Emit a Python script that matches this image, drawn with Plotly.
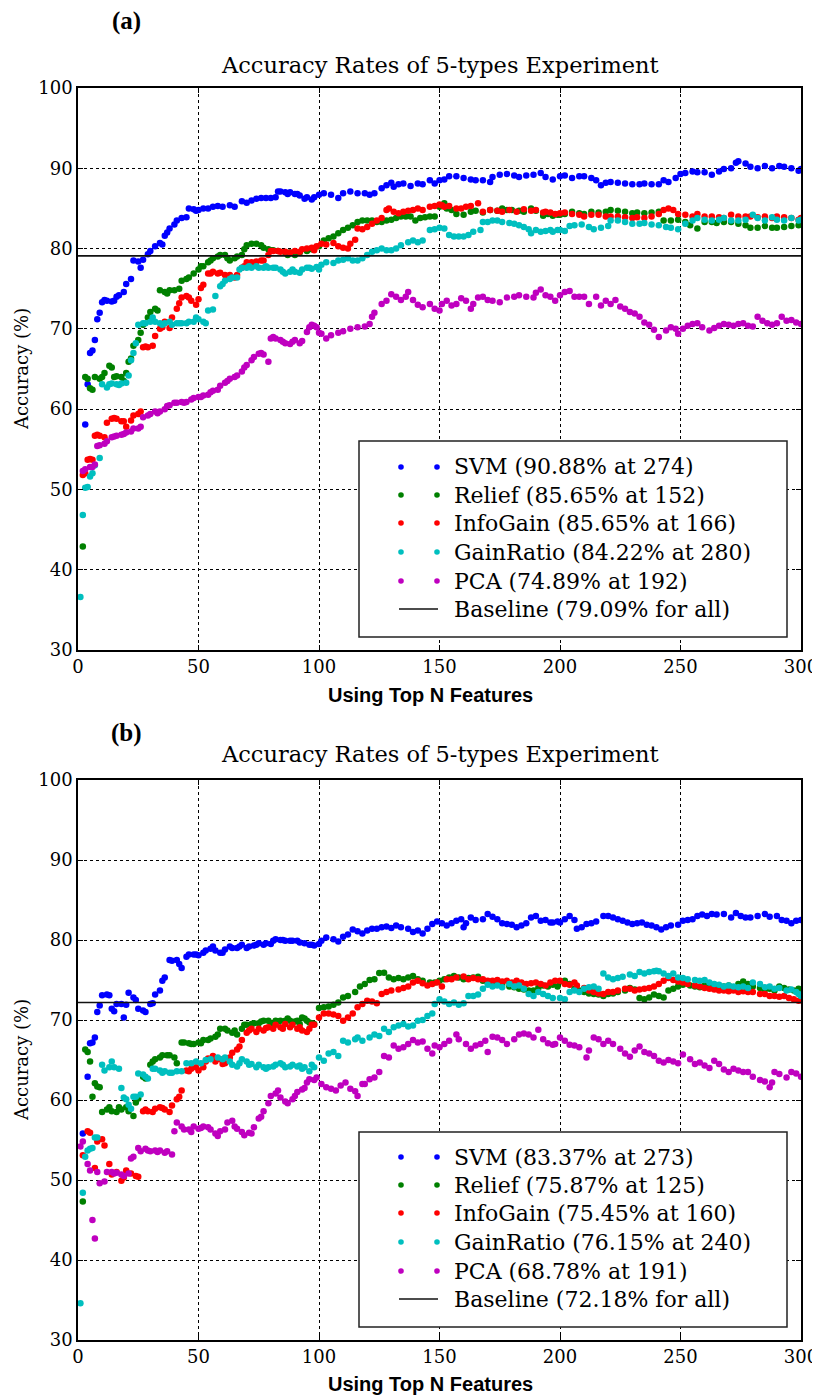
import plotly.graph_objects as go

# ---------------- data (N features, accuracy %) ----------------
svm_a = [(3,58.1),(4,63.1),(5,67.0),(6,67.3),(7,68.6),(8,71.2),(9,72.0),(10,73.3),(11,73.6),(12,73.5),(14,73.4),(15,73.5),(16,74.0),(17,74.2),(19,74.6),(20,75.6),(22,76.2),(23,78.5),(25,78.4),(26,77.6),(27,78.6),(29,79.3),(30,79.7),(32,80.3),(34,80.7),(35,80.5),(36,81.6),(37,82.0),(38,82.5),(40,83.0),(41,83.5),(43,83.8),(45,83.9),(46,85.0),(48,84.9),(49,84.7),(50,84.8),(52,85.0),(54,85.0),(56,85.2),(58,85.3),(60,85.2),(63,85.4),(65,85.2),(68,85.9),(70,85.7),(72,86.0),(74,86.2),(76,86.3),(78,86.3),(80,86.3),(82,86.4),(83,87.1),(84,87.1),(86,87.0),(87,86.8),(88,87.0),(90,86.8),(91,86.8),(92,86.6),(94,86.2),(95,86.4),(97,86.1),(98,86.4),(100,86.7),(102,86.9),(105,86.7),(108,86.3),(110,86.9),(113,87.1),(116,86.9),(119,86.9),(121,86.7),(123,86.9),(126,87.5),(128,87.9),(130,88.2),(131,87.7),(133,88.0),(135,88.1),(138,87.8),(141,88.1),(143,88.0),(146,88.5),(148,88.1),(150,88.5),(152,88.6),(154,89.0),(157,89.0),(160,88.8),(163,88.6),(165,88.5),(168,88.5),(171,88.3),(172,88.9),(175,89.2),(178,89.3),(181,89.1),(183,88.9),(186,89.1),(189,89.2),(192,89.4),(194,88.9),(197,88.6),(200,89.0),(202,89.1),(205,88.8),(208,89.0),(210,89.0),(213,88.8),(215,88.5),(217,87.9),(219,88.2),(221,88.3),(224,88.2),(227,88.1),(230,88.0),(233,88.0),(235,88.1),(238,88.0),(241,88.0),(243,88.5),(245,88.3),(248,88.8),(250,89.3),(252,89.4),(255,89.6),(257,89.5),(260,89.5),(263,89.2),(266,89.6),(268,89.9),(271,90.0),(273,90.7),(274,90.88),(277,90.6),(279,90.2),(282,90.0),(285,90.3),(288,90.0),(291,90.3),(293,90.2),(296,90.0),(299,89.7),(300,89.9)]
relief_a = [(2,42.9),(3,64.0),(4,63.8),(5,62.6),(6,62.4),(7,64.0),(9,63.8),(10,64.0),(11,64.5),(13,65.4),(14,65.2),(15,64.0),(16,64.1),(18,64.0),(19,63.5),(20,64.5),(21,65.9),(22,66.3),(23,67.9),(25,68.6),(26,69.5),(27,70.5),(29,71.4),(30,72.1),(32,72.5),(33,72.3),(34,74.8),(36,74.6),(37,74.4),(38,74.8),(40,74.8),(42,75.0),(43,76.0),(45,76.2),(46,76.4),(48,76.9),(50,77.4),(51,77.8),(52,77.8),(54,78.3),(55,78.5),(56,78.8),(58,79.0),(59,79.2),(61,79.2),(62,78.8),(63,78.5),(65,78.8),(66,79.0),(68,79.2),(69,79.9),(70,80.4),(72,80.6),(74,80.6),(76,80.4),(77,80.1),(79,79.9),(80,79.8),(81,79.8),(83,79.7),(86,79.5),(87,79.2),(88,79.5),(90,79.2),(92,79.5),(95,79.7),(97,79.9),(98,80.0),(100,80.3),(102,81.0),(104,81.3),(106,81.5),(108,81.9),(110,82.3),(112,82.6),(114,82.9),(116,83.3),(118,83.5),(120,83.5),(122,83.5),(124,83.3),(126,83.3),(128,83.5),(130,83.6),(132,83.8),(134,84.0),(136,84.0),(138,84.0),(140,83.5),(142,83.8),(144,83.9),(146,84.0),(148,84.0),(150,85.2),(152,85.65),(153,85.0),(155,84.8),(157,84.3),(160,84.2),(163,84.6),(165,84.7),(168,84.5),(171,84.8),(174,84.7),(176,85.0),(178,84.8),(180,84.8),(183,84.7),(185,84.6),(188,85.0),(190,84.7),(193,84.1),(195,84.3),(197,84.1),(199,84.2),(200,84.2),(202,84.3),(205,84.6),(208,84.4),(210,84.3),(213,84.6),(216,84.5),(219,84.6),(221,84.8),(224,84.7),(227,84.6),(230,84.4),(232,84.5),(235,84.4),(238,84.5),(241,84.6),(243,83.5),(246,83.5),(249,83.6),(252,83.3),(254,82.9),(257,82.5),(260,83.3),(263,83.3),(265,83.2),(268,83.3),(271,83.3),(274,83.1),(277,82.9),(279,82.6),(282,82.6),(285,82.8),(288,82.6),(290,82.6),(293,82.7),(296,82.8),(299,82.9),(300,83.1)]
infogain_a = [(2,51.8),(3,52.0),(4,53.7),(5,53.8),(6,53.7),(7,56.7),(8,56.8),(9,56.7),(11,56.5),(12,58.3),(14,58.8),(15,58.9),(16,58.8),(18,58.5),(19,58.5),(20,57.8),(22,58.6),(23,59.2),(25,59.4),(26,59.7),(27,67.7),(28,67.8),(29,67.7),(31,67.9),(32,69.1),(34,70.0),(35,70.2),(36,70.9),(38,70.1),(39,71.4),(41,72.5),(42,73.2),(43,73.9),(45,74.1),(46,73.9),(47,73.5),(49,73.0),(50,73.7),(51,75.1),(52,75.5),(54,76.9),(55,76.9),(56,77.1),(58,76.9),(59,77.0),(61,76.7),(62,76.4),(63,76.7),(65,76.4),(66,76.7),(68,77.6),(69,77.8),(70,78.3),(72,78.3),(73,78.2),(74,78.4),(76,78.5),(77,78.5),(79,79.2),(80,79.7),(81,79.7),(83,79.7),(84,79.6),(86,79.6),(88,79.5),(90,79.7),(92,79.6),(93,79.9),(95,80.0),(97,80.1),(98,79.8),(99,80.3),(101,80.6),(103,80.5),(106,80.7),(108,80.3),(110,80.1),(112,80.0),(113,80.6),(115,81.1),(116,82.5),(118,82.4),(120,82.7),(122,83.1),(124,83.5),(126,83.8),(128,84.8),(129,85.0),(131,84.6),(133,84.4),(135,84.6),(137,84.7),(139,84.8),(141,85.0),(143,84.8),(146,85.2),(148,85.3),(150,85.5),(151,85.4),(152,85.2),(154,85.3),(157,85.0),(159,85.0),(161,85.2),(163,85.3),(166,85.65),(168,84.6),(171,84.8),(174,84.7),(176,84.6),(179,84.8),(182,84.6),(185,84.9),(188,84.7),(190,84.8),(193,84.5),(194,84.6),(196,84.5),(198,84.3),(200,84.4),(202,84.5),(205,84.3),(208,84.2),(210,84.0),(213,84.2),(216,84.2),(219,84.0),(221,84.0),(224,84.0),(227,83.9),(230,83.8),(232,83.9),(235,83.8),(238,84.0),(241,84.3),(243,84.8),(245,85.0),(247,84.8),(249,84.3),(252,84.2),(255,84.0),(257,84.3),(260,84.0),(263,84.0),(266,83.9),(268,83.8),(271,84.2),(274,84.0),(277,84.0),(279,84.0),(282,83.9),(285,84.0),(288,83.8),(290,84.0),(293,83.9),(296,83.8),(299,83.6),(300,83.8)]
gainratio_a = [(1,36.6),(2,46.8),(3,50.2),(4,50.3),(5,51.6),(6,52.0),(7,53.0),(9,53.9),(10,63.1),(12,62.7),(13,63.1),(14,63.2),(16,63.1),(17,63.0),(18,63.2),(20,63.3),(21,64.2),(22,66.1),(23,67.0),(24,68.2),(25,70.5),(27,70.7),(28,70.7),(30,70.9),(31,71.4),(32,70.9),(34,70.7),(35,70.5),(36,70.7),(38,70.9),(39,70.5),(41,70.7),(42,70.7),(43,70.7),(45,70.7),(46,70.9),(48,70.9),(49,71.4),(50,71.2),(52,70.9),(53,70.7),(54,72.3),(56,72.4),(57,74.1),(59,75.3),(60,75.6),(61,76.0),(63,76.2),(64,76.4),(66,76.4),(67,77.4),(68,77.6),(70,77.6),(71,77.8),(72,77.6),(74,77.8),(75,77.6),(77,77.6),(78,77.8),(79,77.6),(81,77.6),(82,77.6),(84,77.4),(85,77.1),(86,76.9),(88,77.1),(89,77.4),(90,77.1),(92,77.0),(93,77.4),(95,77.6),(96,77.6),(97,77.5),(99,77.7),(100,77.4),(101,78.0),(103,78.3),(106,78.2),(108,78.5),(110,78.6),(112,78.8),(114,78.5),(116,78.5),(118,78.8),(120,79.2),(122,79.6),(124,79.8),(126,80.0),(128,79.8),(130,79.8),(132,80.0),(134,80.4),(137,80.8),(139,81.0),(141,80.8),(143,81.0),(146,82.3),(148,82.4),(150,82.6),(152,82.5),(154,81.7),(156,81.5),(158,81.5),(160,81.5),(162,81.7),(164,82.1),(167,82.3),(168,83.3),(170,83.3),(172,83.5),(174,83.5),(176,83.3),(179,83.2),(181,83.1),(183,82.9),(185,82.7),(187,82.4),(188,81.9),(190,82.3),(192,82.1),(194,82.2),(196,82.3),(197,82.1),(199,82.3),(200,82.3),(202,82.2),(204,82.8),(206,82.9),(209,83.0),(212,82.7),(214,82.4),(217,82.6),(220,82.8),(221,83.5),(224,83.5),(227,83.3),(230,83.1),(233,83.1),(235,83.2),(238,83.0),(241,82.9),(244,82.7),(246,82.6),(249,82.4),(252,83.1),(255,83.5),(257,83.8),(260,83.6),(263,83.5),(266,83.6),(268,83.8),(271,83.5),(274,83.5),(277,83.6),(280,84.22),(282,83.8),(285,83.5),(288,83.9),(290,83.6),(293,83.5),(296,83.8),(299,83.5),(300,83.6)]
pca_a = [(2,52.3),(3,52.5),(5,52.8),(6,52.8),(7,53.1),(8,55.4),(9,55.5),(11,55.7),(12,56.0),(14,56.5),(15,56.6),(16,56.7),(18,56.8),(19,56.9),(20,57.1),(22,57.2),(23,57.6),(25,57.6),(26,57.8),(27,59.0),(29,59.2),(30,59.4),(32,59.7),(33,59.5),(34,59.7),(36,60.0),(37,60.4),(38,60.5),(40,60.8),(41,60.8),(43,60.9),(44,60.8),(45,60.9),(47,61.2),(48,61.4),(50,61.5),(51,61.5),(52,61.7),(54,61.8),(55,62.1),(56,62.3),(58,62.4),(59,62.9),(61,63.3),(62,63.5),(63,63.8),(65,64.0),(66,64.2),(68,64.7),(69,65.2),(70,65.5),(72,66.1),(73,66.5),(75,66.9),(76,67.0),(77,66.8),(79,65.9),(80,68.8),(81,69.0),(82,68.8),(84,68.6),(85,68.4),(86,68.2),(88,68.1),(89,68.4),(90,68.6),(92,68.2),(93,68.5),(95,69.6),(96,70.2),(97,70.5),(98,70.4),(99,70.2),(100,69.5),(101,69.4),(103,68.8),(105,69.2),(108,69.5),(110,69.7),(113,70.0),(116,70.2),(119,70.3),(121,70.6),(122,71.5),(123,72.0),(126,73.1),(128,73.5),(130,74.3),(132,74.0),(134,73.6),(136,74.0),(137,74.6),(139,73.6),(141,73.0),(143,72.7),(146,73.1),(148,72.5),(150,72.3),(151,73.1),(153,73.5),(155,72.9),(157,73.1),(159,73.8),(161,73.5),(163,72.5),(164,73.1),(166,73.9),(168,74.0),(170,73.6),(172,73.5),(175,73.3),(178,73.9),(181,74.0),(183,74.2),(186,74.0),(189,73.9),(190,74.5),(192,74.89),(194,74.2),(196,74.0),(198,73.5),(200,74.2),(202,74.6),(204,74.7),(206,74.0),(208,74.0),(210,74.0),(212,73.1),(215,74.0),(217,72.9),(219,73.5),(221,73.1),(223,73.6),(225,72.8),(227,72.5),(229,72.1),(231,71.9),(233,71.5),(235,70.8),(237,70.5),(239,69.9),(241,69.0),(244,69.8),(246,70.2),(248,70.0),(249,69.4),(251,70.0),(253,70.4),(255,70.6),(257,70.7),(259,70.2),(262,69.8),(264,70.1),(266,70.4),(268,70.6),(270,70.5),(272,70.4),(274,70.6),(276,70.7),(278,70.4),(280,70.3),(282,71.5),(284,71.0),(286,70.7),(288,70.5),(290,70.7),(292,71.5),(294,71.0),(296,71.1),(298,70.8),(300,70.6)]

svm_b = [(2,55.8),(4,62.9),(5,67.1),(6,67.2),(7,67.8),(8,71.0),(9,71.8),(10,73.1),(12,73.2),(13,73.1),(14,71.4),(15,71.1),(16,72.0),(18,72.0),(19,70.3),(20,71.9),(21,73.4),(23,72.8),(24,72.5),(25,71.4),(27,71.2),(28,71.0),(30,72.0),(31,72.1),(32,73.2),(34,73.7),(35,74.9),(36,75.3),(38,77.5),(39,77.4),(41,77.5),(42,77.0),(43,76.5),(45,77.9),(46,78.2),(48,78.2),(49,78.2),(50,78.1),(52,78.4),(53,78.7),(55,78.9),(56,79.2),(57,78.7),(59,78.4),(60,78.4),(61,78.8),(63,79.2),(64,79.0),(66,79.0),(67,79.2),(68,79.4),(70,79.0),(71,79.2),(73,79.3),(74,79.4),(75,79.6),(77,79.4),(78,79.6),(80,79.5),(81,79.9),(82,80.1),(84,80.0),(85,80.0),(86,79.9),(88,79.9),(89,79.9),(91,79.9),(92,79.7),(94,79.6),(96,79.4),(97,79.4),(98,79.3),(100,79.5),(101,79.9),(103,80.3),(106,80.1),(108,79.8),(110,80.4),(112,80.7),(114,81.3),(116,81.1),(118,80.8),(120,81.2),(122,81.4),(124,81.4),(126,81.6),(128,81.7),(130,81.5),(132,81.8),(134,81.6),(137,81.4),(139,81.0),(141,81.2),(143,80.8),(145,81.4),(147,82.0),(149,82.3),(151,82.1),(153,81.8),(155,82.1),(157,82.4),(159,82.6),(160,81.6),(161,82.1),(163,82.8),(165,82.5),(168,82.6),(170,83.25),(172,82.9),(174,82.6),(176,82.1),(178,82.0),(180,81.9),(182,81.6),(184,81.8),(186,82.1),(188,82.8),(190,83.0),(192,82.4),(194,82.5),(196,82.2),(197,82.2),(199,82.3),(200,82.2),(202,82.6),(204,83.0),(206,82.5),(207,81.4),(209,81.6),(211,82.0),(213,82.1),(215,82.3),(218,83.0),(220,83.0),(222,82.8),(224,82.6),(226,82.4),(228,82.2),(230,82.0),(232,82.1),(234,82.2),(236,81.9),(238,81.8),(240,81.6),(242,81.3),(244,81.6),(246,81.8),(249,81.9),(251,82.4),(253,82.5),(255,82.6),(257,83.0),(259,83.2),(261,83.0),(263,83.25),(265,83.2),(268,83.25),(271,82.8),(273,83.37),(275,83.0),(277,82.8),(279,82.8),(282,83.0),(285,83.25),(287,82.9),(290,83.0),(292,82.5),(294,82.4),(296,82.1),(298,82.4),(300,82.5)]
relief_b = [(2,47.3),(3,66.3),(4,66.0),(5,64.8),(6,60.4),(7,62.1),(8,61.7),(9,61.6),(10,58.5),(12,58.8),(13,59.1),(14,58.6),(16,58.5),(17,59.1),(18,58.8),(20,59.1),(21,58.6),(23,58.0),(24,59.7),(25,60.2),(27,62.9),(28,62.7),(30,64.4),(31,64.8),(32,65.1),(34,65.3),(35,65.6),(37,65.6),(38,65.6),(40,65.3),(41,64.6),(43,67.2),(44,67.2),(46,67.1),(47,67.0),(48,67.0),(50,67.2),(51,67.1),(52,67.5),(54,67.5),(55,67.7),(57,67.9),(58,68.2),(59,68.9),(61,68.9),(62,68.7),(64,68.4),(65,68.7),(66,68.2),(68,68.9),(69,69.4),(70,69.4),(72,69.5),(73,69.6),(75,69.6),(76,69.8),(77,69.9),(79,69.9),(80,69.6),(82,69.9),(83,69.8),(84,69.9),(86,69.9),(87,70.2),(88,69.9),(90,69.8),(91,69.9),(92,69.5),(93,70.3),(94,70.2),(95,69.9),(96,69.7),(97,69.6),(98,69.5),(100,71.5),(102,71.6),(104,71.7),(106,71.9),(108,72.2),(110,72.8),(112,73.0),(115,73.5),(117,74.2),(119,74.5),(121,75.0),(123,75.1),(125,75.87),(127,75.9),(129,75.3),(131,75.1),(133,75.25),(135,75.1),(137,75.3),(139,75.5),(141,75.1),(143,74.9),(146,74.7),(148,74.7),(150,74.9),(152,75.1),(154,75.3),(156,75.5),(158,75.3),(160,75.1),(162,75.25),(164,75.3),(166,75.4),(168,74.9),(170,74.7),(172,74.5),(174,74.4),(176,74.4),(179,74.2),(181,74.1),(183,73.9),(185,73.8),(187,73.7),(189,73.7),(191,74.0),(193,74.3),(195,74.2),(197,74.4),(199,74.2),(200,74.8),(202,74.9),(204,74.5),(206,73.9),(208,73.7),(210,73.5),(212,73.3),(214,73.25),(216,73.2),(218,73.0),(220,73.25),(222,73.3),(224,73.5),(227,73.7),(229,74.0),(231,73.8),(233,72.75),(235,72.6),(237,72.8),(239,73.2),(241,73.0),(243,72.8),(245,73.7),(247,73.9),(249,74.2),(251,74.4),(254,74.3),(256,74.2),(258,74.1),(260,74.3),(262,74.2),(264,74.0),(266,74.1),(268,74.2),(270,74.3),(272,74.1),(274,74.5),(276,74.8),(278,74.5),(280,74.2),(283,74.0),(285,73.8),(287,73.9),(289,73.7),(291,74.2),(293,74.0),(295,73.8),(297,73.7),(299,73.9),(300,73.6)]
infogain_b = [(2,53.1),(4,56.1),(5,55.9),(7,51.5),(8,54.8),(10,55.1),(11,54.3),(13,52.0),(14,50.7),(16,51.0),(18,49.9),(19,50.3),(20,51.2),(22,50.8),(24,50.5),(25,50.4),(27,58.6),(28,58.8),(29,58.6),(31,58.5),(32,58.9),(34,59.1),(35,59.0),(36,58.8),(38,58.5),(39,59.3),(41,60.1),(42,60.4),(43,61.2),(45,63.7),(46,63.6),(47,63.9),(49,64.1),(50,63.7),(52,64.1),(53,64.8),(54,65.2),(56,65.5),(57,64.8),(59,65.1),(60,64.5),(61,64.6),(63,65.3),(64,65.9),(66,66.3),(67,66.7),(68,67.5),(70,68.4),(71,68.7),(72,68.9),(74,68.5),(75,68.9),(77,68.7),(78,69.0),(79,69.1),(81,68.9),(82,69.4),(84,69.1),(85,68.9),(86,69.5),(88,69.1),(89,69.4),(91,68.9),(92,69.1),(93,68.7),(95,68.5),(96,68.9),(97,69.4),(98,69.4),(100,70.3),(102,70.8),(104,70.8),(106,70.7),(108,70.5),(110,69.9),(112,70.3),(114,70.8),(116,71.6),(118,72.0),(120,72.4),(122,72.3),(124,72.1),(126,73.25),(128,73.5),(130,73.7),(133,73.8),(135,74.0),(137,74.2),(139,74.7),(141,74.9),(143,74.6),(145,74.3),(147,74.5),(149,74.7),(151,74.2),(153,75.1),(155,75.1),(157,75.3),(160,75.45),(162,75.1),(164,75.25),(166,75.1),(168,75.1),(170,74.9),(172,74.9),(174,75.0),(176,74.8),(178,74.9),(180,74.7),(182,74.9),(184,74.7),(186,74.5),(188,74.6),(190,74.7),(192,74.5),(194,74.3),(196,74.7),(198,74.9),(200,74.9),(202,74.5),(204,74.4),(206,74.7),(207,74.3),(210,74.0),(212,73.7),(214,73.5),(216,73.3),(218,73.25),(220,73.5),(222,73.5),(224,73.7),(227,73.9),(229,73.9),(231,73.7),(233,73.8),(235,73.9),(237,74.0),(239,74.2),(241,74.5),(243,74.9),(245,75.25),(247,75.0),(249,74.8),(251,74.7),(253,74.5),(256,74.3),(258,74.2),(260,74.0),(262,73.9),(264,73.8),(266,73.7),(268,73.7),(270,73.6),(272,73.7),(274,73.5),(276,73.6),(278,73.5),(280,73.5),(283,73.25),(285,73.25),(287,73.0),(289,73.0),(291,72.9),(293,73.0),(295,72.75),(297,72.6),(299,72.4),(300,72.5)]
gainratio_b = [(1,34.6),(2,48.4),(3,52.9),(4,53.7),(5,53.9),(6,54.0),(7,55.3),(8,55.3),(10,64.4),(11,63.7),(13,64.1),(14,64.8),(15,64.1),(17,63.9),(18,61.5),(19,60.3),(20,60.1),(21,59.4),(22,58.9),(23,60.4),(24,60.4),(25,63.3),(26,60.7),(27,63.2),(28,62.9),(29,62.7),(31,63.9),(32,63.9),(34,63.7),(35,63.4),(36,63.6),(38,63.4),(39,63.4),(41,63.6),(43,63.6),(45,64.6),(47,64.6),(49,64.8),(51,64.6),(53,65.0),(55,65.1),(58,65.3),(60,65.1),(61,65.3),(63,64.8),(64,64.4),(66,64.2),(67,64.6),(68,65.1),(70,64.8),(71,64.4),(72,64.5),(74,64.1),(75,64.4),(77,64.1),(78,63.9),(79,64.1),(81,64.2),(82,64.4),(84,64.6),(85,64.4),(86,64.1),(88,64.2),(89,64.4),(91,64.2),(92,64.3),(93,63.9),(94,64.1),(96,63.6),(97,64.4),(98,64.1),(100,65.3),(102,64.9),(104,65.8),(106,66.0),(108,65.5),(110,67.4),(112,67.2),(115,67.6),(116,67.8),(118,67.4),(121,67.8),(123,68.2),(125,68.0),(127,68.9),(129,68.5),(131,69.1),(133,69.3),(135,69.5),(137,69.2),(139,69.3),(141,69.9),(143,70.0),(145,70.5),(147,70.8),(148,72.0),(150,72.6),(152,72.3),(154,72.0),(156,72.2),(158,71.9),(160,72.1),(162,73.0),(164,73.0),(166,73.2),(168,73.9),(170,74.4),(172,74.2),(174,74.3),(176,74.1),(179,74.5),(181,74.2),(183,74.3),(185,73.9),(187,73.25),(189,73.0),(191,73.5),(193,73.25),(195,73.0),(197,72.75),(200,72.75),(202,72.6),(204,73.5),(206,73.7),(208,73.5),(210,73.9),(212,74.1),(214,74.2),(216,73.9),(218,75.8),(220,75.3),(222,75.1),(224,75.25),(226,75.4),(229,75.7),(231,75.5),(233,76.0),(235,75.8),(237,76.0),(239,76.1),(240,76.15),(241,76.1),(243,75.8),(245,75.5),(247,75.8),(249,75.3),(251,75.25),(253,75.1),(256,75.0),(258,74.9),(260,75.0),(262,74.7),(264,74.5),(266,74.4),(268,74.2),(270,74.3),(272,74.2),(274,74.1),(276,74.2),(278,74.0),(280,74.7),(283,74.5),(285,74.1),(287,74.2),(289,73.9),(291,74.0),(294,73.7),(296,73.8),(298,73.5),(299,73.25),(300,73.0)]
pca_b = [(1,54.2),(2,54.8),(4,52.0),(5,51.2),(6,45.0),(7,42.7),(8,51.0),(9,49.6),(11,49.8),(12,51.0),(14,51.0),(15,50.8),(16,50.9),(18,50.7),(19,50.5),(21,50.8),(22,52.7),(23,52.9),(25,54.0),(26,53.6),(28,53.9),(29,53.7),(30,53.6),(32,53.7),(33,53.5),(34,53.7),(36,53.4),(37,53.6),(39,53.2),(40,56.1),(41,57.2),(43,56.7),(44,56.3),(46,56.3),(47,56.0),(48,56.7),(50,56.4),(51,56.5),(52,56.7),(54,56.6),(55,56.3),(57,55.8),(58,55.5),(59,56.1),(61,56.3),(62,57.2),(64,57.4),(65,56.7),(66,56.4),(68,56.0),(69,55.6),(71,55.9),(72,55.8),(73,56.6),(75,57.7),(76,57.9),(77,58.6),(79,59.6),(80,60.5),(82,60.8),(83,61.2),(84,60.3),(86,59.8),(87,59.6),(89,60.1),(90,60.5),(91,61.0),(93,61.3),(94,61.5),(95,62.2),(96,62.6),(98,62.5),(99,62.8),(101,62.0),(103,61.6),(105,61.4),(107,61.2),(109,61.8),(111,62.2),(113,61.4),(115,61.1),(116,60.5),(118,62.0),(119,62.0),(121,62.6),(123,62.8),(125,63.5),(127,65.5),(129,65.3),(131,66.8),(133,66.4),(135,66.6),(137,67.0),(139,67.5),(141,67.2),(143,67.3),(145,66.4),(147,65.8),(148,66.8),(150,66.6),(152,67.0),(154,67.4),(157,68.2),(158,67.6),(161,67.0),(163,66.4),(165,66.8),(167,67.0),(169,67.4),(170,66.0),(172,67.9),(174,67.8),(176,67.5),(178,67.0),(181,67.6),(183,68.2),(185,68.3),(187,68.2),(189,67.8),(191,68.78),(193,67.6),(195,67.1),(197,66.9),(198,67.0),(200,67.8),(202,67.4),(204,66.9),(206,66.8),(208,66.6),(211,65.3),(212,66.2),(214,67.8),(216,67.6),(218,67.0),(220,67.4),(222,67.0),(225,66.4),(227,65.8),(229,65.4),(231,66.2),(233,66.7),(235,66.0),(237,65.8),(239,65.5),(241,64.9),(243,64.7),(245,65.0),(247,64.8),(249,64.6),(251,65.7),(254,65.1),(256,64.5),(258,64.7),(260,64.3),(262,64.0),(264,64.9),(266,64.5),(268,63.8),(270,63.5),(272,63.9),(274,63.7),(276,63.5),(278,63.5),(280,62.9),(283,62.5),(285,62.3),(287,61.6),(288,62.2),(289,63.5),(291,63.25),(294,62.8),(296,63.5),(298,63.3),(300,62.9)]

baseline_a = 79.09
baseline_b = 72.18

labels_a = ["SVM (90.88% at 274)", "Relief (85.65% at 152)", "InfoGain (85.65% at 166)",
            "GainRatio (84.22% at 280)", "PCA (74.89% at 192)", "Baseline (79.09% for all)"]
labels_b = ["SVM (83.37% at 273)", "Relief (75.87% at 125)", "InfoGain (75.45% at 160)",
            "GainRatio (76.15% at 240)", "PCA (68.78% at 191)", "Baseline (72.18% for all)"]

x_ticks = [0, 50, 100, 150, 200, 250, 300]
y_ticks = [30, 40, 50, 60, 70, 80, 90, 100]

colors = ["#0000ff", "#008000", "#ff0000", "#00bfbf", "#bf00bf"]

# ---------------- layout geometry ----------------
# the page body has an 8px margin, so the figure starts at page (8, 8)
OFF = 8
W, H = 820 - OFF, 1397 - OFF
PLOT_L, PLOT_R, PLOT_T, PLOT_B = 78, 801, 88, 1340      # page pixels of the plot area
L, R = PLOT_L - OFF, W - (PLOT_R - OFF)
T, B = PLOT_T - OFF, H - (PLOT_B - OFF)
PW, PH = W - L - R, H - T - B


def px(x):
    """page pixel x -> paper coordinate"""
    return (x - PLOT_L) / PW


def py(y):
    """page pixel y -> paper coordinate"""
    return (PLOT_B - y) / PH


SERIF = "DejaVu Serif"

fig = go.Figure()

panels = [
    ("x", "y", [svm_a, relief_a, infogain_a, gainratio_a, pca_a], baseline_a),
    ("x2", "y2", [svm_b, relief_b, infogain_b, gainratio_b, pca_b], baseline_b),
]
for xa, ya, series, base in panels:
    for pts, col in zip(series, colors):
        xs = [p[0] for p in pts]
        ys = [p[1] for p in pts]
        fig.add_trace(go.Scatter(x=xs, y=ys, mode="markers", xaxis=xa, yaxis=ya,
                                 marker=dict(color=col, size=6.5, line=dict(width=0)),
                                 showlegend=False, hoverinfo="skip"))
    fig.add_trace(go.Scatter(x=[x_ticks[0], x_ticks[-1]], y=[base, base], mode="lines",
                             xaxis=xa, yaxis=ya, line=dict(color="#111111", width=1.6),
                             showlegend=False, hoverinfo="skip"))

axis_common = dict(showline=True, linecolor="black", linewidth=1.6, mirror="allticks",
                   ticks="inside", ticklen=5, tickwidth=1, tickcolor="black",
                   showgrid=True, gridcolor="black", gridwidth=1, griddash="dot",
                   zeroline=False, automargin=False,
                   tickfont=dict(family=SERIF, size=18, color="black"))

dom_a = [py(650), 1.0]
dom_b = [0.0, py(780)]

fig.update_layout(
    width=W, height=H, autosize=False,
    margin=dict(l=L, r=R, t=T, b=B, autoexpand=False),
    paper_bgcolor="white", plot_bgcolor="white",
    xaxis=dict(domain=[0, 1], range=[0, 300], tickvals=x_ticks, anchor="y", **axis_common),
    yaxis=dict(domain=dom_a, range=[30, 100], tickvals=y_ticks, anchor="x", **axis_common),
    xaxis2=dict(domain=[0, 1], range=[0, 300], tickvals=x_ticks, anchor="y2", **axis_common),
    yaxis2=dict(domain=dom_b, range=[30, 100], tickvals=y_ticks, anchor="x2", **axis_common),
)

annotations = []
shapes = []

for tag, tag_y, title_y, xlab_y, ylab_y, box_top, box_bot, rows, labels in [
    ("(a)", 21, 65, 695, 369, 441, 637, [467, 495, 523, 552, 581, 609], labels_a),
    ("(b)", 733, 754, 1384, 1060, 1132, 1327, [1157, 1185, 1213, 1242, 1271, 1299], labels_b),
]:
    annotations.append(dict(text="<b>" + tag + "</b>", x=px(126), y=py(tag_y), xref="paper", yref="paper",
                            showarrow=False, xanchor="center", yanchor="middle",
                            font=dict(family="Liberation Serif", size=25, color="black")))
    annotations.append(dict(text="Accuracy Rates of 5-types Experiment", x=px(439.5), y=py(title_y),
                            xref="paper", yref="paper", showarrow=False, xanchor="center", yanchor="middle",
                            font=dict(family=SERIF, size=22.5, color="black")))
    annotations.append(dict(text="<b>Using Top N Features</b>", x=px(430), y=py(xlab_y),
                            xref="paper", yref="paper", showarrow=False, xanchor="center", yanchor="middle",
                            font=dict(family="Liberation Sans", size=20, color="black")))
    annotations.append(dict(text="Accuracy (%)", x=px(21), y=py(ylab_y), textangle=-90,
                            xref="paper", yref="paper", showarrow=False, xanchor="center", yanchor="middle",
                            font=dict(family=SERIF, size=18, color="black")))
    # legend box
    shapes.append(dict(type="rect", xref="paper", yref="paper", x0=px(359), x1=px(787),
                       y0=py(box_bot), y1=py(box_top), fillcolor="white",
                       line=dict(color="#222222", width=1.5), layer="above"))
    r = 2.8
    for i, (ry, lab) in enumerate(zip(rows, labels)):
        if i < 5:
            for cx in (401, 437):
                shapes.append(dict(type="circle", xref="paper", yref="paper",
                                   x0=px(cx - r), x1=px(cx + r), y0=py(ry + r), y1=py(ry - r),
                                   fillcolor=colors[i], line=dict(width=0), layer="above"))
        else:
            shapes.append(dict(type="line", xref="paper", yref="paper", x0=px(399), x1=px(438),
                               y0=py(ry), y1=py(ry), line=dict(color="#111111", width=1.6), layer="above"))
        annotations.append(dict(text=lab, x=px(452), y=py(ry), xref="paper", yref="paper",
                                showarrow=False, xanchor="left", yanchor="middle",
                                font=dict(family=SERIF, size=22, color="black")))

fig.update_layout(annotations=annotations, shapes=shapes)

fig.write_html("out.html")
